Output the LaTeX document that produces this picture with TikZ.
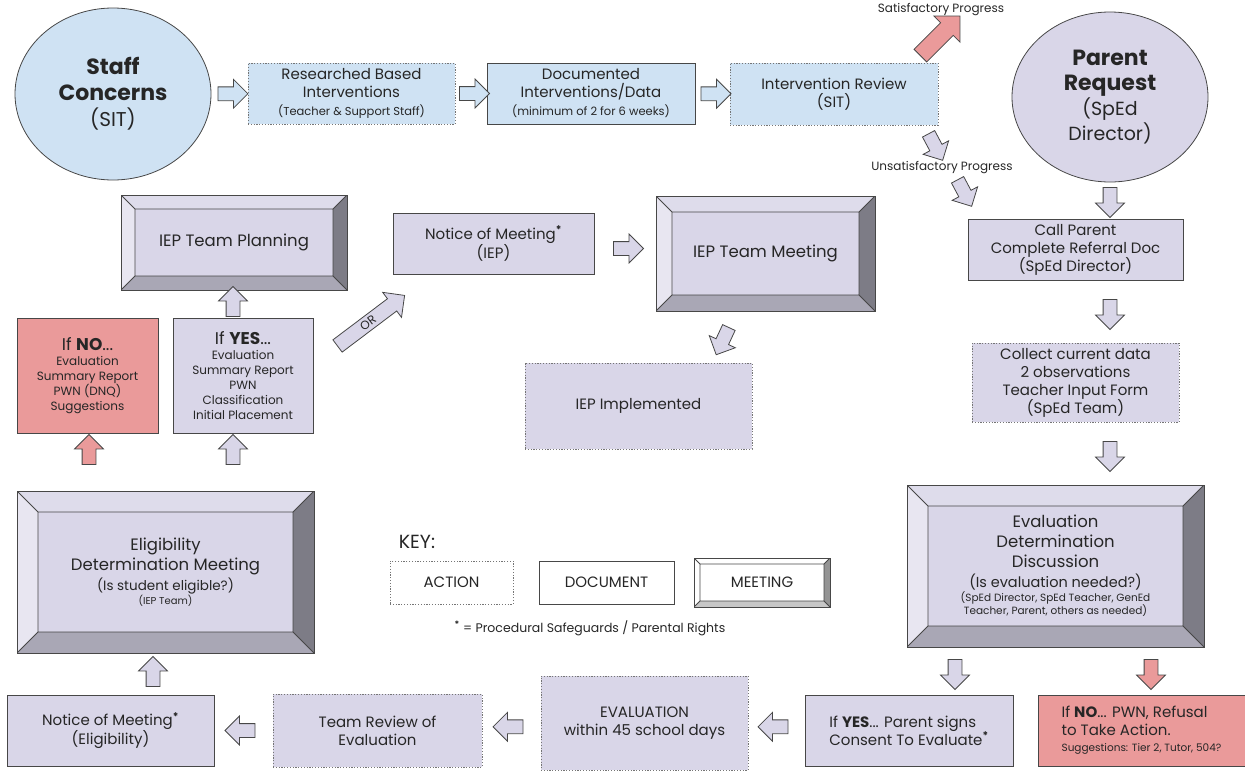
\documentclass[tikz,border=0pt]{standalone}
\usepackage{fontspec}
\setmainfont{Poppins}
\usepackage{tikz}
\usetikzlibrary{shapes.geometric,shapes.arrows,calc}

\definecolor{sky}{HTML}{CFE2F3}
\definecolor{lav}{HTML}{D9D6E8}
\definecolor{salmon}{HTML}{EA9A9A}
\definecolor{edge}{HTML}{474747}

\newcommand\fs[2]{\fontsize{#1}{#2}\selectfont}
\newcommand\psmark{\textsuperscript{\textbf{*}}}
% bevel faces of a meeting box, #1 = depth
\newcommand\bevelfaces[1]{%
  \coordinate (o1) at (path picture bounding box.north west);
  \coordinate (o2) at (path picture bounding box.north east);
  \coordinate (o3) at (path picture bounding box.south east);
  \coordinate (o4) at (path picture bounding box.south west);
  \coordinate (i1) at ([xshift=#1pt,yshift=-#1pt]o1);
  \coordinate (i2) at ([xshift=-#1pt,yshift=-#1pt]o2);
  \coordinate (i3) at ([xshift=-#1pt,yshift=#1pt]o3);
  \coordinate (i4) at ([xshift=#1pt,yshift=#1pt]o4);
  \fill[white,fill opacity=.15] (o1) -- (o2) -- (i2) -- (i1) -- cycle;
  \fill[white,fill opacity=.4] (o1) -- (o4) -- (i4) -- (i1) -- cycle;
  \fill[black,fill opacity=.42] (o2) -- (o3) -- (i3) -- (i2) -- cycle;
  \fill[black,fill opacity=.22] (o4) -- (o3) -- (i3) -- (i4) -- cycle;
  \draw[edge,line width=.9pt] (i1) rectangle (i3) (o1) -- (i1) (o2) -- (i2) (o3) -- (i3) (o4) -- (i4);
}

\begin{document}
\begin{tikzpicture}[x=1pt,y=-1pt,
    every node/.style={text=black!85},
    action/.style={rectangle,draw=edge!75,dash pattern=on 1.2pt off 1.6pt,line width=1pt,fill=lav,align=center,inner sep=0pt,font=\fs{15}{18}},
    document/.style={rectangle,draw=edge,line width=1pt,fill=lav,align=center,inner sep=0pt,font=\fs{15}{18}},
    meeting/.style={rectangle,draw=edge,line width=1pt,fill=lav,align=center,inner sep=0pt,font=\fs{16.5}{20},path picture={\bevelfaces{#1}}},
    bubble/.style={ellipse,draw=edge,line width=.8pt,align=center,inner sep=0pt},
    fat/.style={single arrow,draw=edge,line width=.8pt,fill=lav,inner xsep=0pt,inner ysep=6.5pt,minimum height=30,single arrow head extend=7.5}]
  \useasboundingbox (0,0) rectangle (1245,774);

  % referral row
  \node[bubble,fill=sky,minimum width=196,minimum height=172,font=\fs{22}{26}\bfseries] (staff) at (113,94)
    {Staff\\Concerns\\{\mdseries\fs{20}{24}(SIT)}};
  \node[action,fill=sky,minimum width=207,minimum height=61] (rbi) at (351.5,93.5)
    {Researched Based\\Interventions\\{\fs{11.5}{14}(Teacher \& Support Staff)}};
  \node[document,fill=sky,minimum width=208,minimum height=61] (docs) at (591,93.5)
    {Documented\\Interventions/Data\\{\fs{11.5}{14}(minimum of 2 for 6 weeks)}};
  \node[action,fill=sky,minimum width=208,minimum height=62] (review) at (834,94)
    {Intervention Review\\(SIT)};
  \node[bubble,fill=lav,minimum width=196,minimum height=170,font=\fs{22}{25}\bfseries] (parent) at (1110,97)
    {Parent\\Request\\{\mdseries\fs{19}{22}(SpEd}\\{\mdseries\fs{19}{22}Director)}};
  \node[font=\fs{12}{14}] (satlbl) at (941,10) {Satisfactory Progress};
  \node[font=\fs{12}{14}] (unsatlbl) at (942,168) {Unsatisfactory Progress};

  % special education side
  \node[document,minimum width=215,minimum height=61] (callpar) at (1075.5,249.5)
    {Call Parent\\Complete Referral Doc\\(SpEd Director)};
  \node[action,minimum width=207,minimum height=79] (collect) at (1075.5,382.5)
    {Collect current data\\2 observations\\Teacher Input Form\\(SpEd Team)};
  \node[meeting=21,minimum width=297,minimum height=162] (evaldisc) at (1055.5,566)
    {Evaluation\\Determination\\Discussion\\{\fs{14.5}{17}(Is evaluation needed?)}\\[-6pt]
     {\fs{10.5}{12}(SpEd Director, SpEd Teacher, GenEd}\\[-7pt]{\fs{10.5}{12}Teacher, Parent, others as needed)}};
  \node[document,minimum width=208,minimum height=71,align=left] (consent) at (909,730.5)
    {If \textbf{YES}... Parent signs\\Consent To Evaluate\psmark};
  \node[document,fill=salmon,minimum width=207,minimum height=71,align=left] (refusal) at (1141.5,730.5)
    {If \textbf{NO}... PWN, Refusal\\to Take Action.\\[-2pt]{\fs{10.5}{12}Suggestions: Tier 2, Tutor, 504?}};
  \node[action,minimum width=207,minimum height=94] (evaluation) at (644.5,723)
    {EVALUATION\\within 45 school days};
  \node[action,minimum width=209,minimum height=73] (teamrev) at (377.5,730.5)
    {Team Review of\\Evaluation};
  \node[document,minimum width=207,minimum height=71] (noticeelig) at (110.5,730.5)
    {Notice of Meeting\psmark\\(Eligibility)};

  % eligibility and IEP
  \node[meeting=21,minimum width=297,minimum height=162] (eligmeet) at (165.5,572)
    {Eligibility\\Determination Meeting\\{\fs{13.5}{16}(Is student eligible?)}\\[-6pt]{\fs{10}{12}(IEP Team)}};
  \node[document,fill=salmon,minimum width=141,minimum height=115,font=\fs{12}{15}] (ifno) at (87.5,375.5)
    {{\fs{17}{20}If \textbf{NO}...}\\Evaluation\\Summary Report\\PWN (DNQ)\\Suggestions};
  \node[document,minimum width=140,minimum height=115,font=\fs{12}{15}] (ifyes) at (243,375.5)
    {{\fs{17}{20}If \textbf{YES}...}\\Evaluation\\Summary Report\\PWN\\Classification\\Initial Placement};
  \node[meeting=14,minimum width=226,minimum height=95] (planning) at (234,242.5) {IEP Team Planning};
  \node[document,minimum width=201,minimum height=61] (noticeiep) at (493.5,243.5)
    {Notice of Meeting\psmark\\(IEP)};
  \node[meeting=16,minimum width=219,minimum height=115] (iepmeet) at (765.5,253.5) {IEP Team Meeting};
  \node[action,minimum width=227,minimum height=86] (implemented) at (638.5,406) {IEP Implemented};

  % key
  \node[font=\fs{19}{22}] (keylbl) at (417,542) {KEY:};
  \node[action,fill=white,minimum width=123,minimum height=43] (keyact) at (451.5,582.5) {ACTION};
  \node[document,fill=white,minimum width=135,minimum height=43] (keydoc) at (606.5,582.5) {DOCUMENT};
  \node[meeting=6,fill=white,minimum width=136,minimum height=49,font=\fs{15}{18}] (keymeet) at (762,582.5) {MEETING};
  \node[font=\fs{12.5}{15}] (keynote) at (590,628) {\psmark{} = Procedural Safeguards / Parental Rights};

  % block arrows
  \node[fat,fill=sky] (ar1) at ($(staff.east)!.5!(rbi.west)$) {};
  \node[fat,fill=sky] (ar2) at ($(rbi.east)!.5!(docs.west)$) {};
  \node[fat,fill=sky] (ar3) at ($(docs.east)!.5!(review.west)$) {};
  \node[fat,rotate=180] (ar9) at ($(consent.west)!.5!(evaluation.east)$) {};
  \node[fat,rotate=180] (ar10) at ($(evaluation.west)!.5!(teamrev.east)$) {};
  \node[fat,rotate=180] (ar11) at ($(teamrev.west)!.5!(noticeelig.east)$) {};
  \node[fat] (ar16) at ($(noticeiep.east)!.5!(iepmeet.west)$) {};
  \foreach \nm/\x/\y/\ang/\col in {ar4/1110/199/-90/lav,ar5/1110/311/-90/lav,ar6/1110/453/-90/lav,
      ar7/955/671/-90/lav,ar8/1151/671/-90/salmon,ar12/153/675/90/lav,ar13/89/453/90/salmon,
      ar14/233/453/90/lav,ar15/233/305/90/lav,ar18/724/338/-115/lav,arun1/934/144/-62/lav,arun2/963/190/-62/lav}
    \node[fat,fill=\col,rotate=\ang] (\nm) at (\x,\y) {};
  \node[fat,fill=salmon,rotate=45,minimum height=56,inner ysep=8.5pt,single arrow head extend=9.5] (arsat) at (937,39) {};
  \node[fat,rotate=37,minimum height=84,inner ysep=3pt,single arrow head extend=8,font=\fs{12}{13}] (aror) at (368,323) {OR};
\end{tikzpicture}
\end{document}
